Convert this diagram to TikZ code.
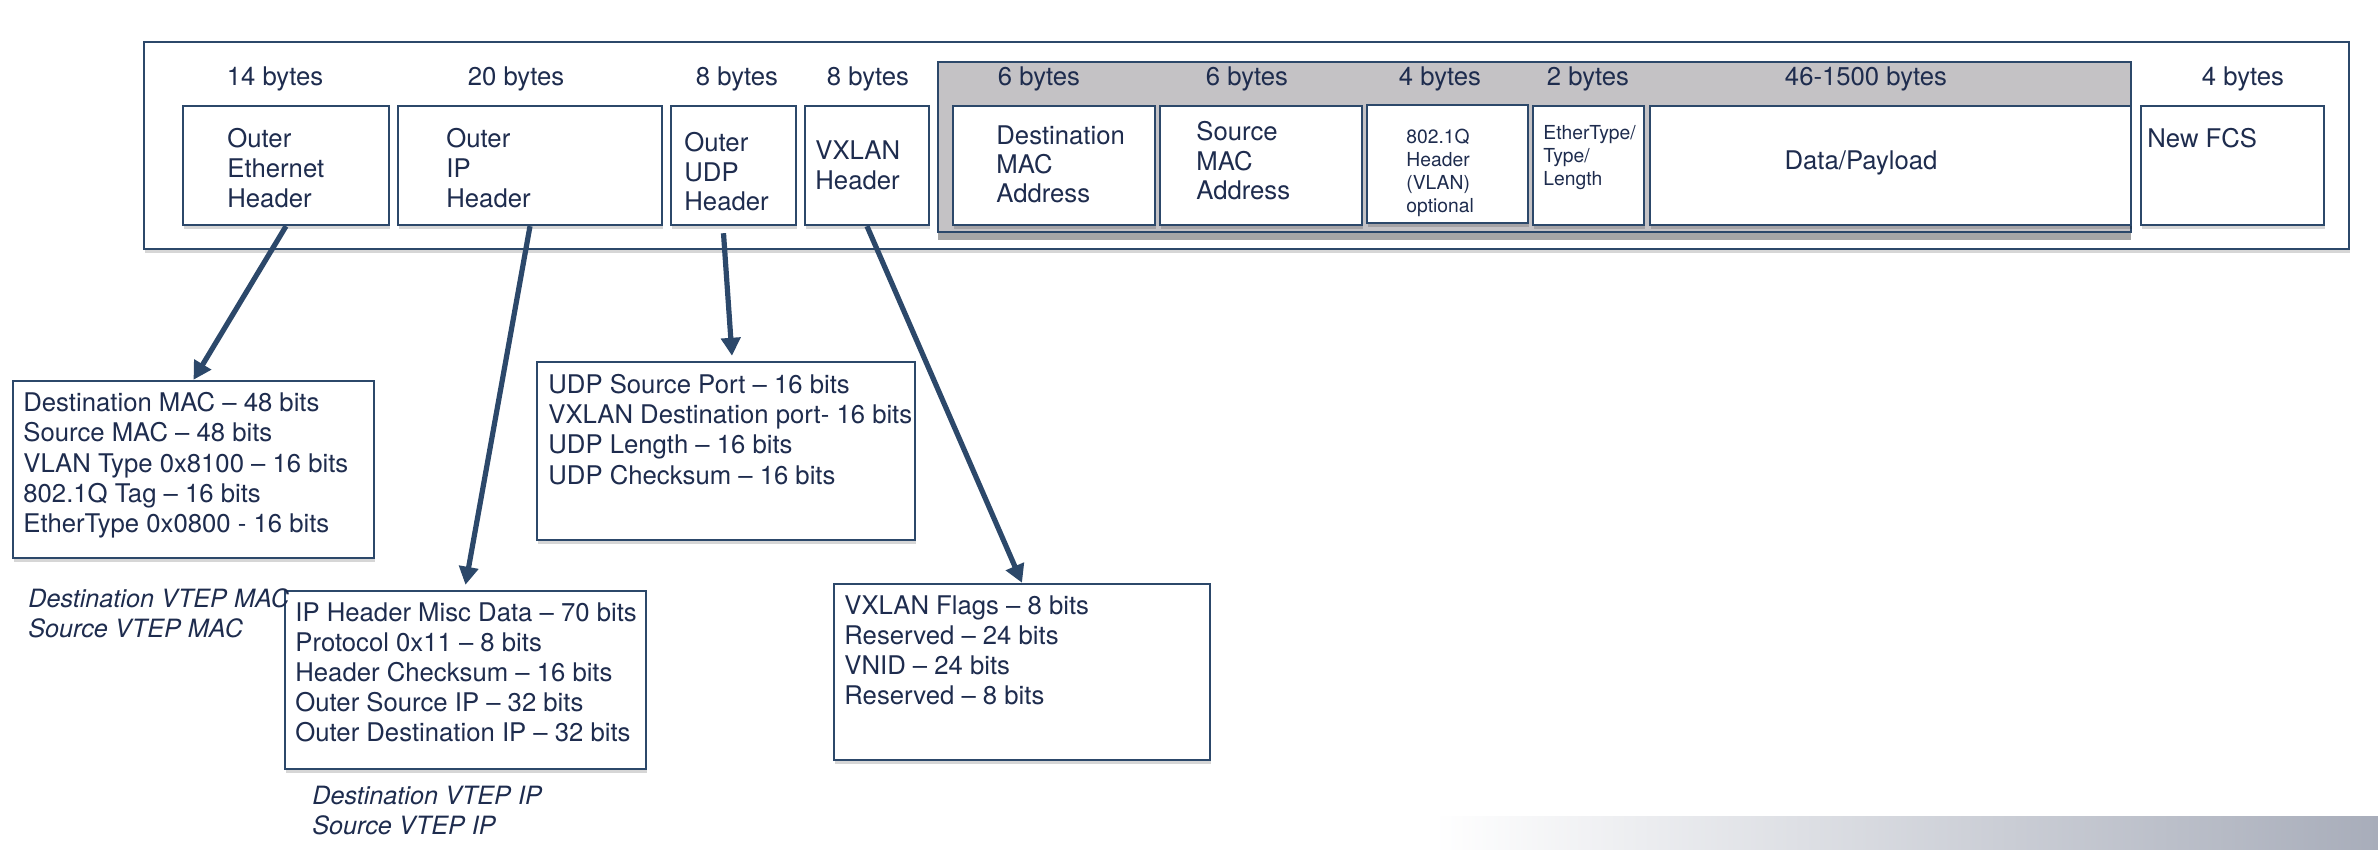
\documentclass[tikz,border=0pt]{standalone}
\usepackage{fontspec}
\setmainfont{TeX Gyre Heros}
\usetikzlibrary{arrows.meta,calc,fit,shadows}

\definecolor{linecol}{RGB}{44,72,106}
\definecolor{txtcol}{RGB}{30,44,78}
\definecolor{greyfill}{RGB}{196,194,197}
\definecolor{fadecol}{RGB}{168,173,186}

\tikzset{
  field/.style={draw=linecol, line width=1.2pt, fill=white, inner sep=0pt},
  shadowed/.style={drop shadow={shadow xshift=0.4pt, shadow yshift=-2pt, opacity=.16, fill=black}},
  txt/.style={text=txtcol, inner sep=0pt, align=left, anchor=north west, yshift=1.5pt, font=\fontsize{12.85}{15.1}\selectfont},
  smalltxt/.style={txt, font=\fontsize{9.65}{11.4}\selectfont},
  bytes/.style={text=txtcol, inner sep=0pt, anchor=base, yshift=0.8pt, font=\fontsize{12.85}{15}\selectfont},
  vtep/.style={txt, font=\fontsize{12.6}{15}\selectfont\itshape},
  pointer/.style={draw=linecol, line width=2.6pt, -{Triangle[length=9pt,width=9.5pt]}}
}

\begin{document}
\begin{tikzpicture}[x=0.5pt,y=-0.5pt]
    \useasboundingbox (0,0) rectangle (2378,850);
    % fade at the bottom of the slide
    \shade[left color=white, right color=fadecol] (1434,816) rectangle (2378,850);

    % whole frame and the inner (original) frame
    \node[field, shadowed, fit={(144,42) (2349,249)}] (frame) {};
    \node[field, fill=greyfill, drop shadow={shadow xshift=0pt, shadow yshift=-4pt, opacity=.35, fill=black},
          fit={(938,62) (2131,232)}] (inner) {};

    % header fields
    \node[field, shadowed, fit={(183,106) (389,225)}] (ethhdr) {};
    \node[field, shadowed, fit={(398,106) (662,225)}] (iphdr) {};
    \node[field, shadowed, fit={(671,106) (796,225)}] (udphdr) {};
    \node[field, shadowed, fit={(805,106) (929,225)}] (vxhdr) {};
    \node[field, shadowed, fit={(953,106) (1155,225)}] (dmac) {};
    \node[field, shadowed, fit={(1160,106) (1362,225)}] (smac) {};
    \node[field, shadowed, fit={(1367,105) (1528,223)}] (tag) {};
    \node[field, shadowed, fit={(1533,106) (1644,225)}] (etype) {};
    \node[field, shadowed, fit={(1650,106) (2131,225)}] (data) {};
    \node[field, shadowed, fit={(2141,106) (2324,225)}] (fcs) {};

    % sizes above the fields
    \foreach \n/\x/\t in {eth/275/14 bytes, ip/516/20 bytes, udp/737/8 bytes, vx/868/8 bytes,
                          dmac/1039/6 bytes, smac/1247/6 bytes, tag/1440/4 bytes, etype/1588/2 bytes,
                          data/1866/46-1500 bytes, fcs/2243/4 bytes}
        \node[bytes] (b-\n) at (\x,87) {\t};

    \node[txt] (ethtxt) at (227,131) {Outer\\Ethernet\\Header};
    \node[txt] (iptxt) at (446,131) {Outer\\IP\\Header};
    \node[txt, font=\fontsize{12.85}{14.8}\selectfont] (udptxt) at (684,135) {Outer\\UDP\\Header};
    \node[txt] (vxtxt) at (815,143) {VXLAN\\Header};
    \node[txt, font=\fontsize{12.85}{14.6}\selectfont] (dmactxt) at (996,128) {Destination\\MAC\\Address};
    \node[txt, font=\fontsize{12.85}{14.8}\selectfont] (smactxt) at (1196,124) {Source\\MAC\\Address};
    \node[smalltxt] (tagtxt) at (1406,132) {802.1Q\\Header\\(VLAN)\\optional};
    \node[smalltxt] (etypetxt) at (1543,128) {EtherType/\\Type/\\Length};
    \node[txt, anchor=center, yshift=0pt] (datatxt) at (1861,166) {Data/Payload};
    \node[txt] (fcstxt) at (2147,131) {New FCS};

    % detail boxes
    \node[field, shadowed, fit={(13,381) (374,558)}] (ethinfo) {};
    \node[field, shadowed, fit={(285,591) (646,769)}] (ipinfo) {};
    \node[field, shadowed, fit={(537,362) (915,540)}] (udpinfo) {};
    \node[field, shadowed, fit={(834,584) (1210,760)}] (vxinfo) {};

    \node[txt] (ethlist) at (23,395) {Destination MAC – 48 bits\\Source MAC – 48 bits\\VLAN Type 0x8100 – 16 bits\\802.1Q Tag – 16 bits\\EtherType 0x0800 - 16 bits};
    \node[txt] (iplist) at (295,605) {IP Header Misc Data – 70 bits\\Protocol 0x11 – 8 bits\\Header Checksum – 16 bits\\Outer Source IP – 32 bits\\Outer Destination IP – 32 bits};
    \node[txt] (udplist) at (548,377) {UDP Source Port – 16 bits\\VXLAN Destination port- 16 bits\\UDP Length – 16 bits\\UDP Checksum – 16 bits};
    \node[txt] (vxlist) at (844,598) {VXLAN Flags – 8 bits\\Reserved – 24 bits\\VNID – 24 bits\\Reserved – 8 bits};

    \node[vtep] (vtepmac) at (28,591) {Destination VTEP MAC\\Source VTEP MAC};
    \node[vtep] (vtepip) at (312,789) {Destination VTEP IP\\Source VTEP IP};

    % pointers from the fields to their details
    \draw[pointer] (ethhdr.south) -- (ethinfo.north);
    \draw[pointer] (iphdr.south) -- ($(ipinfo.north)+(0,-5)$);
    \draw[pointer] ($(udphdr.south)+(-10,7)$) -- ($(udpinfo.north)+(6,-5)$);
    \draw[pointer] (vxhdr.south) -- (vxinfo.north);
\end{tikzpicture}
\end{document}
